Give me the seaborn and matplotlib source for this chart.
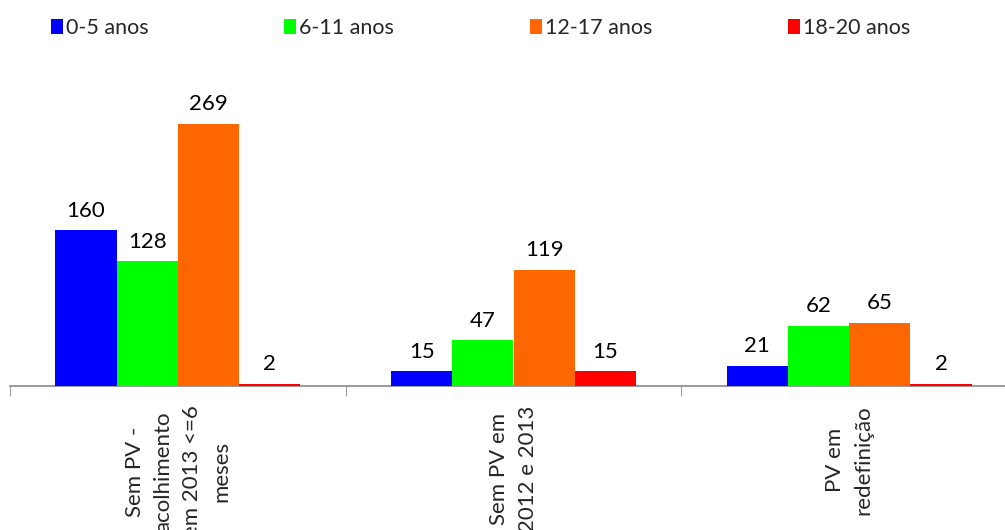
import numpy as np
import pandas as pd
import matplotlib
matplotlib.use("Agg")
import matplotlib.pyplot as plt
import seaborn as sns

# data
CATEGORIES = ["Sem PV -\nacolhimento\nem 2013 <=6\nmeses",
              "Sem PV em\n2012 e 2013",
              "PV em\nredefinição"]
AGE_GROUPS = ["0-5 anos", "6-11 anos", "12-17 anos", "18-20 anos"]
VAL_0_5   = [160, 15, 21]
VAL_6_11  = [128, 47, 62]
VAL_12_17 = [269, 119, 65]
VAL_18_20 = [2, 15, 2]
COLOURS = ["#0000FF", "#00FF00", "#FF6600", "#FF0000"]

sns.set_style("white")
plt.rcParams["font.family"] = ["Lato", "DejaVu Sans"]

rows = []
for grp, vals in zip(AGE_GROUPS, [VAL_0_5, VAL_6_11, VAL_12_17, VAL_18_20]):
    for cat, v in zip(CATEGORIES, vals):
        rows.append({"cat": cat, "grupo": grp, "n": v})
df = pd.DataFrame(rows)

W, H = 1005, 530
fig = plt.figure(figsize=(W / 100, H / 100), dpi=100)
ax = fig.add_axes([10 / W, 1 - 386 / H, 1007 / W, 292 / H])

sns.barplot(data=df, x="cat", y="n", hue="grupo", order=CATEGORIES,
            hue_order=AGE_GROUPS, palette=COLOURS, saturation=1,
            width=0.73, linewidth=0, edgecolor="none", ax=ax)

for cont in ax.containers:
    ax.bar_label(cont, padding=7, fontsize=16, color="#000000")

ax.set_xlim(-0.5, 2.5)
ax.set_ylim(0, 300)
ax.set_xlabel("")
ax.set_ylabel("")
ax.set_yticks([])
for s in ["top", "right", "left"]:
    ax.spines[s].set_visible(False)
ax.spines["bottom"].set_color("#888888")
ax.spines["bottom"].set_linewidth(1.2)
ax.spines["bottom"].set_zorder(0)

ax.set_xticks([-0.5, 0.5, 1.5, 2.5], minor=True)
ax.tick_params(axis="x", which="minor", length=7, color="#888888",
               direction="out", bottom=True)
ax.tick_params(axis="x", which="major", length=0, pad=14, labelsize=16)
plt.setp(ax.get_xticklabels(), rotation=90, ha="center", va="top",
         multialignment="center", linespacing=1.55)

handles, labels = ax.get_legend_handles_labels()
ax.legend_.remove()
fig.legend(handles, labels, loc="center left",
           bbox_to_anchor=(51 / W, 1 - 28 / H), ncol=4, frameon=False,
           borderpad=0, borderaxespad=0, handlelength=0.55,
           handleheight=0.65, handletextpad=0.15, columnspacing=6.3,
           fontsize=15.5)

fig.savefig("out.png", dpi=100)
